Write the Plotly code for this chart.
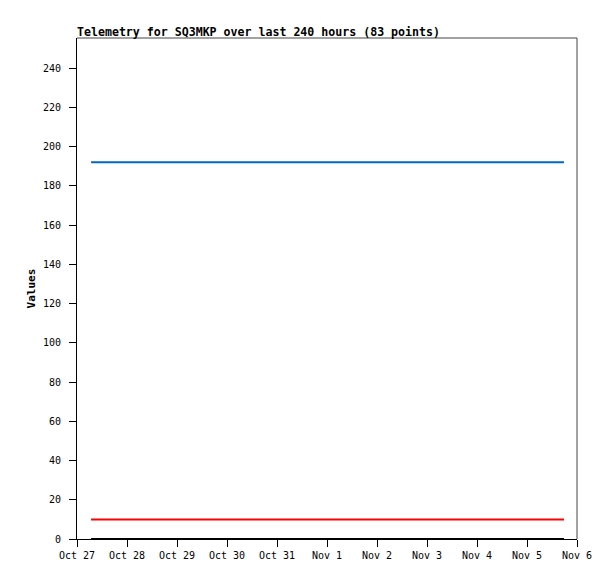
import pandas as pd
import plotly.graph_objects as go

start_time = "2023-10-27 06:45"
end_time = "2023-11-05 17:45"
n_points = 83
times = pd.date_range(start_time, end_time, periods=n_points)

series_blue = [192] * n_points
series_red = [10] * n_points
series_black = [0] * n_points

x_ticks = pd.date_range("2023-10-27", "2023-11-06", freq="D")
x_tick_labels = ["Oct 27", "Oct 28", "Oct 29", "Oct 30", "Oct 31", "Nov 1", "Nov 2",
                 "Nov 3", "Nov 4", "Nov 5", "Nov 6"]
y_ticks = list(range(0, 241, 20))

fig = go.Figure()
for vals, col in [(series_blue, "#0066cc"), (series_red, "#ff0000"), (series_black, "#000000")]:
    fig.add_trace(go.Scatter(x=times, y=vals, mode="lines",
                             line=dict(color=col, width=2), showlegend=False,
                             cliponaxis=False))

tick_font = dict(family="DejaVu Sans Mono", size=10, color="#000000")
title_font = dict(family="DejaVu Sans Mono", size=11.6, color="#000000")
fig.update_layout(
    width=615, height=579,
    margin=dict(l=69, r=46, t=30, b=48, autoexpand=False),
    paper_bgcolor="white", plot_bgcolor="white",
    font=tick_font,
    xaxis=dict(range=[x_ticks[0], x_ticks[-1]], tickvals=x_ticks, ticktext=x_tick_labels,
               showgrid=False, zeroline=False, showline=True, linecolor="#000000",
               linewidth=1, ticks="outside", ticklen=7, tickcolor="#000000",
               tickfont=tick_font),
    yaxis=dict(range=[0, 255.3], tickvals=y_ticks, showgrid=False, zeroline=False,
               showline=True, linecolor="#000000", linewidth=1,
               ticks="outside", ticklen=7, tickcolor="#000000", tickfont=tick_font,
               ticklabelstandoff=6,
               title=dict(text="<b>Values</b>", font=dict(family="DejaVu Sans Mono", size=11, color="#000000"),
                          standoff=5)),
    shapes=[
        dict(type="line", xref="paper", yref="paper", x0=0, x1=1, y0=1, y1=1,
             line=dict(color="#444444", width=1)),
        dict(type="line", xref="paper", yref="paper", x0=1, x1=1, y0=0, y1=1,
             line=dict(color="#444444", width=1)),
    ],
)
fig.add_annotation(text="<b>Telemetry for SQ3MKP over last 240 hours (83 points)</b>",
                   xref="paper", yref="paper", x=0, y=1, xanchor="left", yanchor="bottom",
                   xshift=-2, yshift=-3, showarrow=False, font=title_font)
fig.write_html("out.html")
